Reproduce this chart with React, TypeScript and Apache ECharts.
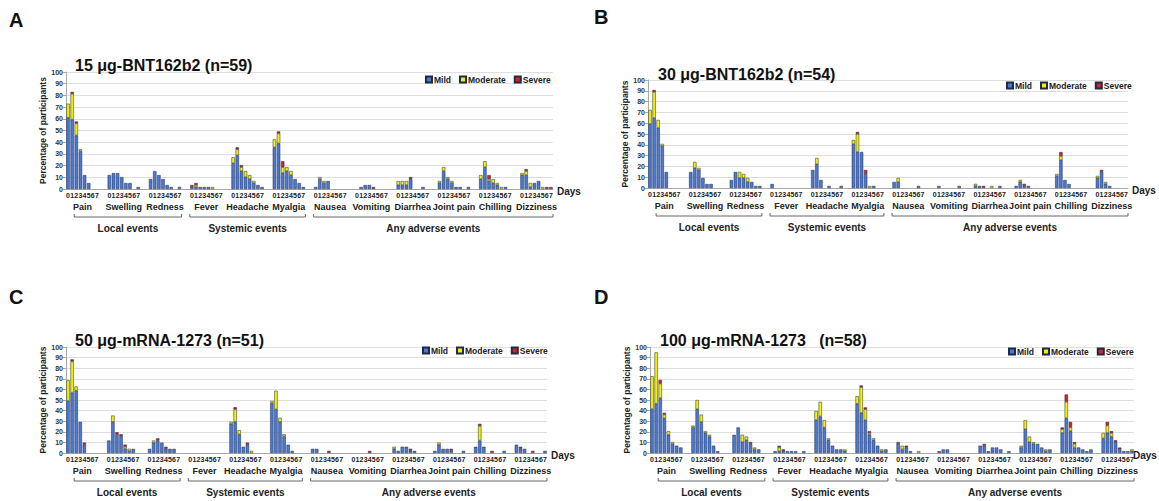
import React, { useEffect, useRef } from 'react';
import * as echarts from 'echarts';

const symptoms = ['Pain', 'Swelling', 'Redness', 'Fever', 'Headache', 'Myalgia', 'Nausea', 'Vomiting', 'Diarrhea', 'Joint pain', 'Chilling', 'Dizziness'];
const days = ['0', '1', '2', '3', '4', '5', '6', '7'];
const seriesNames = ['Mild', 'Moderate', 'Severe'];
const seriesColors = ['#4a78d2', '#f5f000', '#e01f1f'];
const eventGroups = [
  { label: 'Local events', first: 0, startDay: 2, last: 2, endDay: 7 },
  { label: 'Systemic events', first: 3, startDay: 0, last: 5, endDay: 7 },
  { label: 'Any adverse events', first: 6, startDay: 0, last: 11, endDay: 7 },
];

// Panel A: 15 µg-BNT162b2 (n=59) — rows: symptoms, columns: day 0..7
const mildA = [
  [61, 59.3, 45.8, 32.2, 11.9, 5.1, 0, 0],
  [11.9, 13.6, 13.6, 10.2, 5.1, 5.1, 0, 1.7],
  [8.5, 15.3, 11.9, 8.5, 3.4, 1.7, 0, 1.7],
  [1.7, 1.7, 1.7, 1.7, 1.7, 0, 0, 0],
  [22, 28.8, 15.3, 10.2, 8.5, 5.1, 3.4, 1.7],
  [35.6, 39, 13.6, 15.3, 11.9, 8.5, 5.1, 1.7],
  [1.7, 8.5, 5.1, 6.8, 0, 0, 0, 0],
  [0, 1.7, 3.4, 3.4, 0, 0, 0, 0],
  [3.4, 3.4, 3.4, 8.5, 0, 0, 1.7, 0],
  [5.1, 15.3, 8.5, 5.1, 1.7, 1.7, 0, 1.7],
  [8.5, 18.6, 6.8, 5.1, 3.4, 0, 1.7, 0],
  [11.9, 11.9, 1.7, 5.1, 6.8, 0, 0, 0],
];
const moderateA = [
  [11.9, 22, 10.2, 1.7, 0, 0, 0, 0],
  [0, 0, 0, 0, 0, 0, 0, 0],
  [0, 0, 0, 0, 0, 0, 0, 0],
  [0, 1.7, 0, 0, 0, 1.7, 0, 0],
  [5.1, 5.1, 3.4, 5.1, 3.4, 1.7, 0, 0],
  [6.8, 8.5, 5.1, 3.4, 3.4, 0, 0, 0],
  [0, 1.7, 1.7, 0, 0, 0, 0, 0],
  [0, 0, 0, 0, 0, 0, 0, 0],
  [3.4, 3.4, 3.4, 0, 0, 0, 0, 0],
  [1.7, 3.4, 1.7, 1.7, 0, 0, 0, 0],
  [3.4, 5.1, 1.7, 3.4, 1.7, 1.7, 0, 0],
  [1.7, 3.4, 3.4, 0, 0, 1.7, 0, 0],
];
const severeA = [
  [0, 1.7, 1.7, 0, 0, 0, 0, 0],
  [0, 0, 0, 0, 0, 0, 0, 0],
  [0, 0, 0, 0, 0, 0, 0, 0],
  [1.7, 1.7, 0, 0, 0, 0, 0, 0],
  [0, 1.7, 1.7, 0, 0, 0, 0, 0],
  [0, 1.7, 5.1, 0, 0, 0, 0, 0],
  [0, 0, 0, 0, 0, 0, 0, 0],
  [0, 0, 0, 0, 1.7, 0, 0, 0],
  [0, 0, 0, 1.7, 0, 0, 0, 0],
  [0, 0, 0, 0, 0, 0, 0, 0],
  [0, 0, 3.4, 0, 0, 0, 0, 0],
  [0, 1.7, 0, 0, 0, 0, 1.7, 1.7],
];

// Panel B: 30 µg-BNT162b2 (n=54)
const mildB = [
  [59.3, 64.8, 55.6, 38.9, 14.8, 0, 0, 0],
  [14.8, 18.5, 16.7, 9.3, 3.7, 3.7, 0, 0],
  [7.4, 14.8, 9.3, 9.3, 5.6, 5.6, 1.9, 1.9],
  [3.7, 0, 0, 0, 0, 0, 0, 0],
  [16.7, 22.2, 7.4, 0, 1.9, 0, 0, 1.9],
  [40.7, 33.3, 33.3, 13, 0, 1.9, 0, 0],
  [5.6, 5.6, 0, 0, 0, 0, 1.9, 0],
  [0, 1.9, 0, 0, 0, 0, 1.9, 0],
  [1.9, 1.9, 0, 0, 0, 0, 1.9, 0],
  [1.9, 5.6, 1.9, 1.9, 0, 0, 0, 0],
  [11.1, 25.9, 7.4, 3.7, 0, 0, 0, 0],
  [9.3, 14.8, 3.7, 1.9, 0, 0, 0, 0],
];
const moderateB = [
  [13, 24.1, 7.4, 1.9, 0, 0, 0, 0],
  [0, 5.6, 1.9, 0, 0, 0, 0, 0],
  [0, 0, 5.6, 3.7, 3.7, 0, 0, 0],
  [0, 0, 0, 0, 0, 0, 0, 0],
  [0, 5.6, 0, 0, 0, 0, 0, 0],
  [3.7, 16.7, 0, 0, 1.9, 0, 0, 0],
  [0, 3.7, 0, 0, 0, 0, 0, 0],
  [0, 0, 0, 0, 0, 0, 0, 0],
  [1.9, 0, 0, 0, 1.9, 0, 0, 0],
  [0, 1.9, 0, 0, 0, 0, 0, 0],
  [1.9, 3.7, 0, 0, 0, 0, 0, 0],
  [1.9, 0, 1.9, 0, 0, 0, 0, 0],
];
const severeB = [
  [0, 1.9, 0, 0, 0, 0, 0, 0],
  [0, 0, 0, 0, 0, 0, 0, 0],
  [0, 0, 0, 0, 0, 0, 0, 0],
  [0, 0, 0, 0, 0, 0, 0, 0],
  [0, 0, 0, 0, 0, 0, 0, 0],
  [0, 1.9, 0, 3.7, 0, 0, 0, 0],
  [0, 0, 0, 0, 0, 0, 0, 0],
  [0, 0, 0, 0, 0, 0, 0, 0],
  [0, 0, 1.9, 0, 0, 0, 0, 0],
  [0, 0, 1.9, 0, 0, 0, 0, 0],
  [0, 3.7, 0, 0, 0, 0, 0, 0],
  [0, 1.9, 0, 0, 0, 0, 0, 0],
];

// Panel C: 50 µg-mRNA-1273 (n=51)
const mildC = [
  [49, 56.9, 58.8, 29.4, 7.8, 0, 0, 0],
  [11.8, 29.4, 17.6, 15.7, 3.9, 2, 3.9, 0],
  [3.9, 9.8, 11.8, 9.8, 3.9, 3.9, 3.9, 0],
  [0, 0, 0, 0, 0, 0, 0, 0],
  [27.5, 29.4, 17.6, 5.9, 7.8, 0, 0, 0],
  [47.1, 41.2, 29.4, 15.7, 7.8, 2, 0, 0],
  [3.9, 3.9, 0, 0, 0, 0, 0, 0],
  [0, 0, 0, 0, 0, 0, 0, 0],
  [3.9, 2, 5.9, 5.9, 2, 2, 0, 0],
  [2, 7.8, 3.9, 3.9, 2, 0, 0, 2],
  [5.9, 11.8, 5.9, 0, 0, 0, 0, 2],
  [7.8, 3.9, 3.9, 0, 0, 0, 0, 2],
];
const moderateC = [
  [19.6, 29.4, 3.9, 0, 0, 0, 0, 0],
  [0, 5.9, 0, 0, 2, 2, 0, 0],
  [0, 2, 0, 0, 0, 0, 0, 0],
  [0, 0, 0, 0, 0, 0, 0, 0],
  [2, 11.8, 3.9, 0, 0, 2, 0, 0],
  [2, 17.6, 3.9, 2, 0, 0, 0, 0],
  [0, 0, 0, 0, 0, 0, 0, 0],
  [0, 0, 0, 0, 0, 0, 0, 0],
  [2, 0, 0, 0, 0, 0, 0, 0],
  [0, 2, 0, 0, 0, 0, 0, 0],
  [0, 13.7, 0, 0, 0, 0, 0, 0],
  [0, 0, 0, 0, 0, 0, 0, 0],
];
const severeC = [
  [0, 2, 0, 0, 2, 0, 0, 0],
  [0, 0, 2, 2, 2, 0, 0, 0],
  [0, 0, 2, 0, 2, 0, 0, 0],
  [0, 0, 0, 0, 0, 0, 0, 0],
  [0, 2, 0, 0, 2, 0, 0, 0],
  [0, 0, 0, 0, 0, 0, 0, 0],
  [0, 0, 0, 0, 2, 0, 0, 0],
  [0, 0, 0, 0, 2, 0, 0, 0],
  [0, 0, 0, 0, 2, 0, 0, 0],
  [0, 0, 0, 0, 2, 0, 0, 0],
  [0, 2, 0, 0, 2, 0, 0, 0],
  [0, 2, 0, 0, 2, 0, 0, 0],
];

// Panel D: 100 µg-mRNA-1273 (n=58)
const mildD = [
  [41.4, 46.6, 51.7, 32.8, 17.2, 8.6, 6.9, 5.2],
  [24.1, 41.4, 29.3, 19, 15.5, 6.9, 1.7, 0],
  [17.2, 24.1, 10.3, 12.1, 8.6, 3.4, 3.4, 0],
  [1.7, 1.7, 1.7, 1.7, 1.7, 1.7, 0, 1.7],
  [31, 34.5, 24.1, 12.1, 6.9, 3.4, 3.4, 1.7],
  [46.6, 37.9, 31, 17.2, 12.1, 6.9, 1.7, 3.4],
  [8.6, 3.4, 5.2, 1.7, 0, 0, 0, 0],
  [0, 3.4, 3.4, 0, 0, 0, 0, 0],
  [6.9, 6.9, 1.7, 5.2, 5.2, 3.4, 0, 1.7],
  [5.2, 22.4, 10.3, 8.6, 8.6, 5.2, 1.7, 3.4],
  [19, 32.8, 20.7, 5.2, 5.2, 3.4, 1.7, 3.4],
  [13.8, 19, 15.5, 10.3, 3.4, 1.7, 1.7, 1.7],
];
const moderateD = [
  [31, 48.3, 13.8, 3.4, 3.4, 1.7, 0, 0],
  [1.7, 8.6, 6.9, 1.7, 1.7, 0, 0, 0],
  [0, 0, 6.9, 3.4, 0, 1.7, 0, 0],
  [0, 3.4, 0, 0, 0, 0, 0, 0],
  [8.6, 13.8, 6.9, 1.7, 0, 0, 0, 1.7],
  [6.9, 24.1, 10.3, 1.7, 1.7, 0, 1.7, 0],
  [0, 3.4, 0, 0, 0, 1.7, 0, 0],
  [0, 0, 0, 0, 0, 0, 0, 0],
  [0, 0, 0, 0, 0, 0, 0, 0],
  [1.7, 8.6, 5.2, 1.7, 0, 0, 1.7, 0],
  [3.4, 15.5, 3.4, 3.4, 0, 0, 0, 0],
  [5.2, 6.9, 3.4, 0, 0, 0, 0, 1.7],
];
const severeD = [
  [0, 0, 3.4, 1.7, 0, 0, 0, 0],
  [0, 0, 0, 0, 0, 0, 0, 0],
  [0, 0, 0, 0, 1.7, 0, 0, 0],
  [0, 1.7, 1.7, 0, 0, 0, 0, 0],
  [0, 0, 0, 0, 0, 0, 0, 0],
  [0, 1.7, 1.7, 1.7, 0, 0, 0, 0],
  [1.7, 0, 1.7, 0, 0, 0, 0, 0],
  [1.7, 0, 0, 0, 0, 0, 0, 0],
  [0, 1.7, 0, 0, 0, 0, 0, 0],
  [0, 0, 0, 0, 0, 0, 0, 0],
  [1.7, 6.9, 5.2, 1.7, 0, 0, 0, 0],
  [0, 3.4, 1.7, 1.7, 1.7, 0, 0, 0],
];

const panels = [
  { letter: 'A', title: '15 μg-BNT162b2 (n=59)', values: [mildA, moderateA, severeA],
    grid: { left: 66, top: 72, width: 487, height: 117 }, titleX: 75, titleY: 57, letterX: 9, letterY: 10, legendX: 425, legendY: 75 },
  { letter: 'B', title: '30 μg-BNT162b2 (n=54)', values: [mildB, moderateB, severeB],
    grid: { left: 648, top: 80, width: 480, height: 108 }, titleX: 658, titleY: 66, letterX: 594, letterY: 7, legendX: 1006, legendY: 81 },
  { letter: 'C', title: '50 μg-mRNA-1273 (n=51)', values: [mildC, moderateC, severeC],
    grid: { left: 66, top: 347, width: 481, height: 106 }, titleX: 75, titleY: 332, letterX: 9, letterY: 287, legendX: 422, legendY: 346 },
  { letter: 'D', title: '100 μg-mRNA-1273   (n=58)', values: [mildD, moderateD, severeD],
    grid: { left: 650, top: 347, width: 484, height: 106 }, titleX: 660, titleY: 332, letterX: 594, letterY: 287, legendX: 1008, legendY: 347 },
];

const FONT = 'Liberation Sans, Arial, Helvetica, sans-serif';
const PAGE_W = 1159;

function slotLabels(): string[] {
  const out: string[] = [];
  symptoms.forEach((_, g) => {
    days.forEach((d) => out.push(d));
    if (g < symptoms.length - 1) out.push('', '');
  });
  return out;
}

function slotData(rows: number[][]): (number | string)[] {
  const out: (number | string)[] = [];
  rows.forEach((row, g) => {
    row.forEach((v) => out.push(v > 0 ? v : '-'));
    if (g < rows.length - 1) out.push('-', '-');
  });
  return out;
}

export default function App() {
  const ref = useRef<HTMLDivElement>(null);
  useEffect(() => {
    if (!ref.current) return;
    const chart = echarts.init(ref.current, undefined, { renderer: 'svg' });
    const labels = slotLabels();
    const option: any = {
      animation: false,
      textStyle: { fontFamily: FONT },
      title: [] as any[],
      legend: [] as any[],
      grid: [] as any[],
      xAxis: [] as any[],
      yAxis: [] as any[],
      series: [] as any[],
    };
    panels.forEach((p, i) => {
      option.title.push({ text: p.letter, left: p.letterX, top: p.letterY, padding: 0, textStyle: { fontSize: 20, fontWeight: 'bold', color: '#111', fontFamily: FONT } });
      option.title.push({ text: p.title, left: p.titleX, top: p.titleY, padding: 0, textStyle: { fontSize: 16, fontWeight: 'bold', color: '#111', fontFamily: FONT } });
      option.legend.push({
        data: seriesNames, left: p.legendX, top: p.legendY, padding: 0, icon: 'rect', itemWidth: 6, itemHeight: 6, itemGap: 8,
        textStyle: { fontSize: 8.5, fontWeight: 'bold', color: '#222', fontFamily: FONT, padding: [0, 0, 0, -3] },
      });
      option.grid.push({ ...p.grid, containLabel: false });
      option.xAxis.push({
        type: 'category', gridIndex: i, data: labels,
        axisLine: { lineStyle: { color: '#a8a8a8', width: 1 } },
        axisTick: { show: false },
        axisLabel: { interval: 0, fontSize: 7, fontWeight: 'bold', color: '#222', margin: 3, fontFamily: FONT },
      });
      option.yAxis.push({
        type: 'value', gridIndex: i, min: 0, max: 100, interval: 10,
        name: 'Percentage of participants', nameLocation: 'middle', nameGap: 18,
        nameTextStyle: { fontSize: 8.5, fontWeight: 'bold', color: '#222', fontFamily: FONT },
        axisLine: { show: true, lineStyle: { color: '#a8a8a8' } },
        axisTick: { show: true, length: 3, lineStyle: { color: '#a8a8a8' } },
        axisLabel: { fontSize: 7, fontWeight: 'bold', color: '#333', margin: 3, fontFamily: FONT },
        splitLine: { lineStyle: { color: '#dedede', width: 1 } },
      });
      seriesNames.forEach((name, k) => {
        option.series.push({
          type: 'bar', name, stack: 'p' + i, xAxisIndex: i, yAxisIndex: i,
          data: slotData(p.values[k]), barCategoryGap: '18%',
          itemStyle: { color: seriesColors[k], borderColor: '#1d2a48', borderWidth: 0.5 },
        });
      });
    });
    chart.setOption(option);

    const graphic: any[] = [];
    panels.forEach((p, i) => {
      const px = (idx: number) => chart.convertToPixel({ xAxisIndex: i }, idx) as number;
      const slotW = px(1) - px(0);
      const y0 = p.grid.top + p.grid.height;
      symptoms.forEach((s, g) => {
        const cx = (px(g * 10 + 3) + px(g * 10 + 4)) / 2;
        graphic.push({ type: 'text', x: cx, y: y0 + 18, style: { text: s, fontSize: 9, fontWeight: 'bold', fill: '#222', fontFamily: FONT, align: 'center', verticalAlign: 'middle' } });
      });
      eventGroups.forEach((eg) => {
        const x1 = px(eg.first * 10 + eg.startDay) - slotW / 2;
        const x2 = px(eg.last * 10 + eg.endDay) + slotW / 2;
        const yb = y0 + 28;
        graphic.push({ type: 'polyline', shape: { points: [[x1, yb - 3], [x1, yb], [x2, yb], [x2, yb - 3]] }, style: { stroke: '#666', lineWidth: 1, fill: 'none' } });
        graphic.push({ type: 'text', x: (x1 + x2) / 2, y: y0 + 39, style: { text: eg.label, fontSize: 10, fontWeight: 'bold', fill: '#222', fontFamily: FONT, align: 'center', verticalAlign: 'middle' } });
      });
      const daysX = Math.min(p.grid.left + p.grid.width + 4, PAGE_W - 26);
      graphic.push({ type: 'text', x: daysX, y: y0 + 2, style: { text: 'Days', fontSize: 10, fontWeight: 'bold', fill: '#222', fontFamily: FONT, align: 'left', verticalAlign: 'middle' } });
    });
    chart.setOption({ graphic });

    return () => chart.dispose();
  }, []);
  return <div ref={ref} style={{ position: 'fixed', left: 0, top: 0, width: 1159, height: 501, background: '#fff' }} />;
}
